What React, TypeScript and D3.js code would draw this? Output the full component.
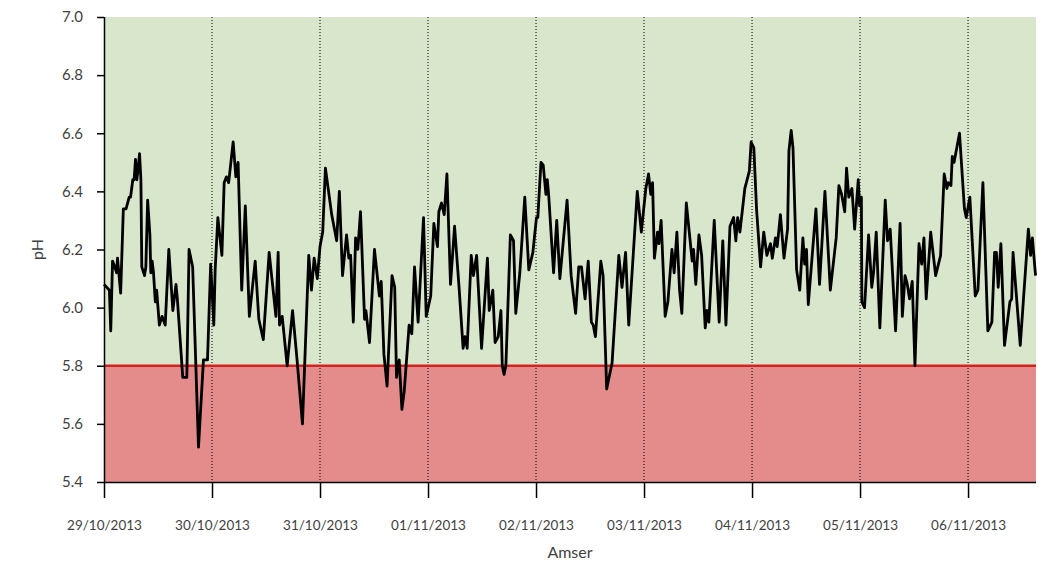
import React, { useEffect, useRef } from 'react';
import * as d3 from 'd3';

// hours since 29/10/2013 00:00
const hours = [
  0, 1.2, 1.5, 1.9, 2.4, 2.8, 3.0, 3.7, 4.3, 4.9, 5.6, 5.9, 6.4, 6.7, 7.0, 7.3, 7.6, 7.9, 8.2, 8.4,
  9.0, 9.3, 9.7, 10.2, 10.4, 10.7, 11.0, 11.4, 11.7, 12.3, 12.9, 13.6, 14.4, 15.3, 16.0, 16.3, 17.5, 18.4, 18.9, 19.7,
  21.0, 22.1, 23.0, 23.7, 24.4, 24.7, 25.3, 26.2, 26.7, 27.2, 27.7, 28.7, 29.3, 29.8, 30.6, 31.4, 32.3, 33.6, 34.4, 35.4,
  36.7, 38.2, 38.7, 39.0, 39.6, 40.7, 41.9, 42.9, 44.1, 45.5, 46.1, 46.7, 47.4, 48.0, 48.6, 49.2, 50.6, 51.7, 52.3, 53.0,
  53.9, 54.4, 54.8, 55.4, 55.9, 56.4, 57.0, 57.9, 58.2, 59.0, 60.1, 61.2, 61.6, 62.2, 62.9, 64.0, 64.6, 65.0, 65.6, 66.2,
  66.7, 67.8, 68.4, 69.0, 69.8, 71.0, 71.6, 72.6, 73.3, 74.1, 74.4, 75.0, 75.6, 76.2, 77.0, 77.9, 78.9, 79.8, 80.2, 80.7,
  81.6, 82.1, 82.8, 83.9, 85.2, 85.6, 86.4, 86.9, 87.6, 88.2, 88.5, 88.9, 89.3, 90.3, 91.0, 91.5, 92.4, 93.5, 94.4, 95.3,
  96.1, 96.4, 97.1, 97.6, 98.2, 98.5, 98.8, 99.9, 100.6, 101.3, 102.9, 103.8, 104.8, 105.5, 106.1, 106.9, 107.6, 108.3, 108.7, 109.2,
  110.4, 110.9, 111.7, 112.9, 114.4, 115.1, 115.9, 116.6, 118.5, 119.4, 120.4, 121.0, 121.5, 121.9, 122.3, 123.0, 123.3, 123.8, 124.7, 125.3,
  126.2, 126.7, 127.3, 127.9, 128.4, 129.4, 130.7, 131.0, 131.5, 132.2, 132.8, 133.6, 134.0, 134.4, 135.6, 136.7, 137.5, 138.2, 139.1, 139.9,
  140.4, 140.8, 141.3, 142.4, 143.4, 143.8, 144.4, 145.0, 145.9, 146.6, 147.3, 148.1, 148.5, 149.2, 149.6, 150.3, 151.1, 151.9, 152.2, 152.7,
  153.1, 153.9, 154.6, 155.3, 155.7, 156.1, 156.5, 158.2, 159.0, 160.2, 161.4, 162.7, 163.3, 163.9, 164.6, 165.0, 165.5, 166.2, 166.8, 167.6,
  167.9, 168.3, 168.4, 169.0, 169.9, 170.6, 171.0, 171.6, 172.4, 173.6, 174.1, 174.7, 175.9, 176.9, 177.4, 178.0, 178.5, 179.0, 179.6, 180.2,
  181.1, 181.7, 182.2, 182.7, 183.7, 184.8, 185.9, 186.7, 187.3, 187.6, 188.2, 188.5, 188.9, 190.1, 191.2, 191.6, 192.4, 193.6, 194.2, 195.3,
  196.4, 197.3, 197.9, 198.3, 198.7, 199.3, 200.1, 201.3, 201.7, 202.0, 203.6, 205.4, 205.9, 206.3, 207.0,
];

const ph = [
  6.08, 6.06, 5.92, 6.16, 6.14, 6.12, 6.17, 6.05, 6.34, 6.34, 6.38, 6.38, 6.44, 6.44, 6.51, 6.44, 6.48, 6.53, 6.44, 6.14,
  6.11, 6.14, 6.37, 6.25, 6.12, 6.16, 6.12, 6.02, 6.06, 5.94, 5.97, 5.94, 6.20, 5.99, 6.08, 6.03, 5.76, 5.76, 6.20, 6.14,
  5.52, 5.82, 5.82, 6.15, 5.94, 6.13, 6.31, 6.18, 6.43, 6.45, 6.43, 6.57, 6.45, 6.50, 6.06, 6.35, 5.97, 6.16, 5.96, 5.89,
  6.19, 5.97, 6.19, 5.94, 5.97, 5.80, 5.99, 5.82, 5.60, 6.18, 6.06, 6.17, 6.10, 6.21, 6.26, 6.48, 6.32, 6.23, 6.40, 6.11,
  6.25, 6.17, 6.18, 5.95, 6.24, 6.20, 6.33, 5.96, 5.99, 5.88, 6.20, 6.04, 6.09, 5.84, 5.73, 6.11, 6.07, 5.76, 5.82, 5.65,
  5.71, 5.94, 5.91, 6.14, 5.95, 6.31, 5.97, 6.04, 6.29, 6.21, 6.33, 6.36, 6.32, 6.46, 6.08, 6.28, 6.07, 5.86, 5.90, 5.86,
  6.18, 6.11, 6.18, 5.86, 6.17, 5.99, 6.06, 5.88, 5.90, 5.99, 5.80, 5.77, 5.80, 6.25, 6.23, 5.98, 6.12, 6.38, 6.13, 6.19,
  6.31, 6.31, 6.50, 6.49, 6.39, 6.44, 6.39, 6.12, 6.30, 6.10, 6.37, 6.11, 5.98, 6.14, 6.14, 6.03, 6.16, 5.95, 5.94, 5.90,
  6.16, 6.11, 5.72, 5.81, 6.18, 6.07, 6.19, 5.94, 6.40, 6.26, 6.41, 6.46, 6.39, 6.43, 6.17, 6.26, 6.22, 6.30, 5.97, 6.02,
  6.20, 6.12, 6.26, 6.06, 5.98, 6.36, 6.16, 6.20, 6.08, 6.25, 6.18, 5.93, 5.99, 5.95, 6.30, 5.95, 6.23, 5.94, 6.28, 6.31,
  6.23, 6.31, 6.26, 6.41, 6.47, 6.57, 6.55, 6.34, 6.14, 6.26, 6.18, 6.22, 6.17, 6.24, 6.21, 6.32, 6.17, 6.27, 6.54, 6.61,
  6.55, 6.13, 6.06, 6.24, 6.15, 6.20, 6.01, 6.34, 6.08, 6.40, 6.06, 6.24, 6.42, 6.39, 6.33, 6.48, 6.38, 6.41, 6.27, 6.44,
  6.35, 6.38, 6.02, 6.00, 6.25, 6.07, 6.12, 6.26, 5.93, 6.37, 6.23, 6.27, 5.92, 6.29, 5.97, 6.11, 6.08, 6.03, 6.09, 5.80,
  6.22, 6.15, 6.24, 6.03, 6.26, 6.11, 6.18, 6.46, 6.41, 6.43, 6.42, 6.52, 6.50, 6.60, 6.34, 6.31, 6.38, 6.04, 6.06, 6.43,
  5.92, 5.95, 6.19, 6.19, 6.07, 6.22, 5.87, 6.02, 6.03, 6.19, 5.87, 6.27, 6.18, 6.24, 6.11,
];

const yTicks = [5.4, 5.6, 5.8, 6.0, 6.2, 6.4, 6.6, 6.8, 7.0];
const threshold = 5.8;
const endHours = 207.1;

const App: React.FC = () => {
  const chartRef = useRef<SVGSVGElement | null>(null);

  useEffect(() => {
    if (chartRef.current) {
      drawChart();
    }
  }, []);

  const drawChart = () => {
    const svg = d3.select(chartRef.current);
    svg.selectAll("*").remove();

    const width = 1046;
    const height = 563;
    const margin = { top: 17, right: 10, bottom: 81, left: 104 };
    const font = "Lato, 'Open Sans', sans-serif";
    const textColor = "#3f3f3f";

    const start = new Date(2013, 9, 29, 0, 0);
    const toDate = (h: number) => new Date(start.getTime() + h * 3600 * 1000);
    const data = hours.map((h, i) => ({ date: toDate(h), value: ph[i] }));

    const x = d3.scaleTime()
      .domain([start, toDate(endHours)])
      .range([margin.left, width - margin.right]);

    const y = d3.scaleLinear()
      .domain([5.4, 7.0])
      .range([height - margin.bottom, margin.top]);

    const [x0, x1] = x.range();

    // zones
    svg.append("rect")
      .attr("x", x0).attr("y", y(7.0))
      .attr("width", x1 - x0).attr("height", y(threshold) - y(7.0))
      .attr("fill", "#d8e7cb");
    svg.append("rect")
      .attr("x", x0).attr("y", y(threshold))
      .attr("width", x1 - x0).attr("height", y(5.4) - y(threshold))
      .attr("fill", "#e48b8b");

    const days = d3.timeDay.range(start, toDate(endHours));

    // dotted day lines
    svg.append("g")
      .selectAll("line")
      .data(days.slice(1))
      .enter().append("line")
      .attr("x1", d => x(d)).attr("x2", d => x(d))
      .attr("y1", y(7.0)).attr("y2", y(5.4))
      .attr("stroke", "#000")
      .attr("stroke-width", 1)
      .attr("stroke-dasharray", "1,2");

    // threshold line
    svg.append("line")
      .attr("x1", x0).attr("x2", x1)
      .attr("y1", y(threshold)).attr("y2", y(threshold))
      .attr("stroke", "#d42222")
      .attr("stroke-width", 2.5);

    // series
    const line = d3.line<{ date: Date; value: number }>()
      .x(d => x(d.date))
      .y(d => y(d.value));

    svg.append("path")
      .datum(data)
      .attr("fill", "none")
      .attr("stroke", "#000")
      .attr("stroke-width", 2.8)
      .attr("stroke-linejoin", "round")
      .attr("d", line);

    // x axis
    const xAxis = svg.append("g")
      .attr("transform", `translate(0,${height - margin.bottom})`)
      .call(d3.axisBottom(x)
        .tickValues(days)
        .tickSize(16)
        .tickPadding(22)
        .tickFormat(d => d3.timeFormat("%d/%m/%Y")(d as Date)));
    xAxis.select(".domain").attr("stroke", "#000").attr("stroke-width", 1.5)
      .attr("d", `M${x0},0.5H${x1}`);
    xAxis.selectAll(".tick line").attr("stroke", "#000").attr("stroke-width", 1.5);
    xAxis.selectAll("text")
      .attr("fill", textColor)
      .style("font-family", font)
      .style("font-size", "13.5px");

    // y axis
    const yAxis = svg.append("g")
      .attr("transform", `translate(${margin.left},0)`)
      .call(d3.axisLeft(y)
        .tickValues(yTicks)
        .tickSize(7)
        .tickPadding(14)
        .tickFormat(d => d3.format(".1f")(d as number)));
    yAxis.select(".domain").attr("stroke", "#000").attr("stroke-width", 1.5)
      .attr("d", `M0.5,${y(7.0)}V${y(5.4)}`);
    yAxis.selectAll(".tick line").attr("stroke", "#000").attr("stroke-width", 1.5);
    yAxis.selectAll("text")
      .attr("fill", textColor)
      .style("font-family", font)
      .style("font-size", "15px");

    svg.append("text")
      .attr("x", (x0 + x1) / 2)
      .attr("y", 558)
      .attr("text-anchor", "middle")
      .attr("fill", textColor)
      .style("font-family", font)
      .style("font-size", "16px")
      .text("Amser");

    svg.append("text")
      .attr("transform", `translate(43,${(y(7.0) + y(5.4)) / 2}) rotate(-90)`)
      .attr("text-anchor", "middle")
      .attr("fill", textColor)
      .style("font-family", font)
      .style("font-size", "16px")
      .text("pH");
  };

  return (
    <svg
      ref={chartRef}
      width={1046}
      height={563}
      style={{ position: 'absolute', left: 0, top: 0, background: '#fff' }}
    ></svg>
  );
};

export default App;
